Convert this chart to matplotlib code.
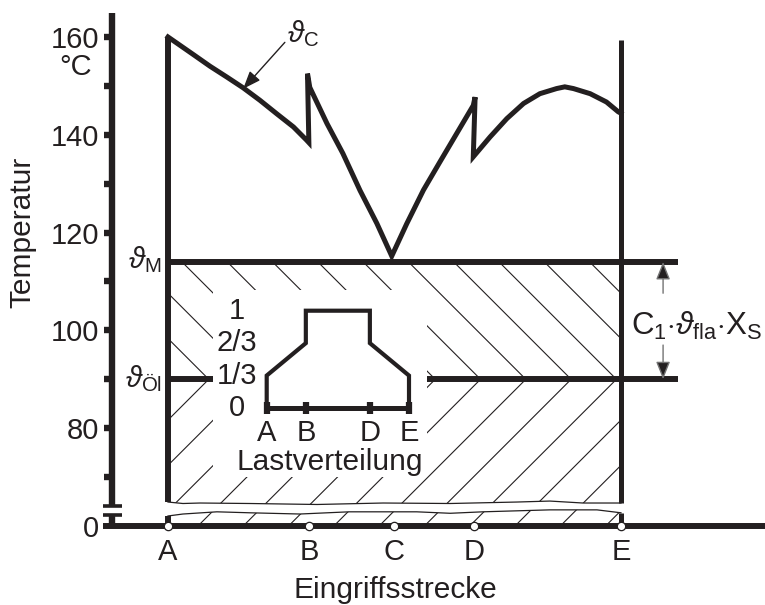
import numpy as np
import matplotlib
matplotlib.use("Agg")
import matplotlib.pyplot as plt
from matplotlib.collections import LineCollection
from matplotlib.patches import Rectangle
from matplotlib.path import Path

plt.rcParams['font.family'] = ['Liberation Sans', 'DejaVu Sans']
plt.rcParams['mathtext.fontset'] = 'custom'
plt.rcParams['mathtext.rm'] = 'Liberation Sans'
plt.rcParams['mathtext.it'] = 'Liberation Sans:italic'
plt.rcParams['text.color'] = '#231f20'

# Eingriffsstrecke positions (A = 0, E = 1)
points = ['A', 'B', 'C', 'D', 'E']
point_x = [0.0, 0.311, 0.499, 0.675, 1.0]

# contact temperature curve (theta_C)
curve_x = [0.0, 0.056, 0.093, 0.130, 0.166, 0.203, 0.240, 0.277, 0.306, 0.311,
           0.308, 0.313, 0.351, 0.386, 0.424, 0.461, 0.494,
           0.527, 0.564, 0.600, 0.637, 0.674, 0.678, 0.674,
           0.711, 0.748, 0.785, 0.821, 0.858, 0.876, 0.895, 0.932, 0.968, 0.994, 1.0]
curve_t = [160.0, 156.4, 154.0, 151.8, 149.6, 147.05, 144.3, 141.6, 138.9, 138.4,
           152.5, 149.7, 142.3, 136.2, 128.6, 121.9, 115.2,
           121.8, 128.7, 134.4, 140.2, 146.0, 147.7, 135.5,
           139.55, 143.3, 146.4, 148.4, 149.45, 149.8, 149.45, 148.4, 146.7, 144.7, 144.4]

t_mass = 114.0   # theta_M
t_oil = 90.0     # theta_Oel

# break lines (axis break near 0)
wave_top_x = [0, 0.033, 0.071, 0.181, 0.329, 0.475, 0.623, 0.770, 0.843, 0.916, 1.0]
wave_top_t = [64.9, 64.6, 64.7, 64.6, 64.4, 64.7, 64.6, 64.9, 65.1, 64.7, 64.7]
wave_bot_x = [0, 0.033, 0.108, 0.181, 0.291, 0.400, 0.549, 0.623, 0.695, 0.843, 0.947, 1.0]
wave_bot_t = [62.05, 62.45, 62.9, 62.7, 62.45, 62.9, 62.9, 62.6, 62.9, 63.3, 63.3, 62.7]

yticks_major = [80, 100, 120, 140, 160]
yticks_minor = [70, 90, 110, 130, 150]

# inset: load distribution
load_pts = ['A', 'B', 'D', 'E']
load_pos = [0.0, 0.275, 0.725, 1.0]
load_x = [0.0, 0.0, 0.275, 0.275, 0.725, 0.725, 1.0, 1.0]
load_y = [0.0, 1/3, 2/3, 1.0, 1.0, 2/3, 1/3, 0.0]
load_levels = [0, 1/3, 2/3, 1]
load_labels = ['0', '1/3', '2/3', '1']

W, H = 765, 605
fig = plt.figure(figsize=(W / 100, H / 100), dpi=100)
ax = fig.add_axes([112 / W, 79 / H, 653 / W, 513 / H])
ax.set_xlim(-0.1236, 1.318)
ax.set_ylim(60, 164.9)

lw = 4.3
k = '#231f20'
fs = 21

# axes
for s in ['top', 'right', 'bottom']:
    ax.spines[s].set_visible(False)
ax.spines['left'].set_linewidth(4.6)
ax.spines['left'].set_color(k)
ax.spines['left'].set_bounds(64.0, 164.9)
ax.spines['left'].set_capstyle('butt')
x0 = -0.1236
ax.plot([x0, x0], [60, 62.3], color=k, lw=4.6, clip_on=False, solid_capstyle='butt')
for yb in [64.0, 62.3]:
    ax.plot([-0.1435, -0.1015], [yb, yb], color=k, lw=2.6, clip_on=False,
            solid_capstyle='butt')
ax.plot([-0.1435, 1.318], [60, 60], color=k, lw=lw, clip_on=False,
        solid_capstyle='butt', zorder=4)

ax.set_yticks(yticks_major + [60])
ax.set_yticklabels([str(v) for v in yticks_major] + ['0'])
ax.set_yticks(yticks_minor, minor=True)
ax.tick_params(axis='y', which='both', direction='out', length=6, width=4.6,
               labelsize=fs, pad=3, color=k, labelcolor=k)
ax.yaxis.get_major_ticks()[-1].tick1line.set_visible(False)
ax.set_xticks(point_x)
ax.set_xticklabels(points)
ax.tick_params(axis='x', length=0, labelsize=fs, pad=9, labelcolor=k)

ax.plot(point_x, [60] * 5, 'o', mfc='white', mec=k, ms=6, mew=0.9,
        clip_on=False, zorder=6)

# hatching (45 deg in pixels)
slope = (653 / 1.4416) / (513 / 104.9)
centers = [0.99 - 0.1 * i for i in range(-4, 13)]
up_segs = [[(c, t_oil), (c - (t_mass - t_oil) / slope, t_mass)] for c in centers]
dn_segs = [[(c, t_oil), (c - (t_oil - 60) / slope, 60)] for c in centers]

def region(xs, top, bottom):
    xs = list(xs)
    if np.isscalar(top):
        verts = [(xs[0], top), (xs[-1], top)]
    else:
        verts = list(zip(xs, top))
    if np.isscalar(bottom):
        verts += [(xs[-1], bottom), (xs[0], bottom)]
    else:
        verts += list(zip(xs[::-1], bottom[::-1]))
    return Path(verts + [verts[0]])

clips = [
    (up_segs, region([0, 1], t_mass, t_oil)),
    (dn_segs, region(wave_top_x, t_oil, wave_top_t)),
    (dn_segs, region(wave_bot_x, wave_bot_t, 60)),
]
for segs, path in clips:
    lc = LineCollection(segs, colors=k, linewidths=0.8, zorder=1)
    ax.add_collection(lc)
    lc.set_clip_path(path, ax.transData)

ax.plot(wave_top_x, wave_top_t, color=k, lw=0.9, zorder=2)
ax.plot(wave_bot_x, wave_bot_t, color=k, lw=0.9, zorder=2)

# horizontal levels
ax.plot([0, 1.126], [t_mass, t_mass], color=k, lw=lw, solid_capstyle='butt', zorder=1.5)
ax.plot([0, 1.126], [t_oil, t_oil], color=k, lw=lw, solid_capstyle='butt', zorder=1.5)

# blank area behind inset
ax.add_patch(Rectangle((0.1, 70.0), 0.472, 38.2, fc='white', ec='none', zorder=2))

# vertical lines at A and E
ax.plot([0, 0], [160, wave_top_t[0]], color=k, lw=lw, solid_capstyle='butt', zorder=3)
ax.plot([0, 0], [60, wave_bot_t[0]], color=k, lw=lw, solid_capstyle='butt', zorder=3)
ax.plot([1, 1], [159.3, wave_top_t[-1]], color=k, lw=3.6, solid_capstyle='butt', zorder=3)
ax.plot([1, 1], [60, wave_bot_t[-1]], color=k, lw=3.6, solid_capstyle='butt', zorder=3)

# temperature curve
ax.plot(curve_x, curve_t, color=k, lw=3.6, solid_joinstyle='miter', zorder=3)

# labels
ax.text(-0.014, 114.4, r'$\vartheta_{\mathrm{M}}$', fontsize=21, ha='right', va='center')
ax.text(-0.014, 90.2, r'$\vartheta_{\mathrm{Öl}}$', fontsize=21, ha='right', va='center')
ax.text(0.262, 160.6, r'$\vartheta_{\mathrm{C}}$', fontsize=21, ha='left', va='center')
ax.annotate('', xy=(0.166, 149.4), xytext=(0.258, 158.9),
            arrowprops=dict(arrowstyle='-|>,head_length=0.9,head_width=0.35',
                            mutation_scale=12, lw=1, color=k, shrinkA=0, shrinkB=0))

for y0, y1 in [(107.6, t_mass), (97.0, t_oil)]:
    ax.annotate('', xy=(1.093, y1), xytext=(1.093, y0),
                arrowprops=dict(arrowstyle='-|>,head_length=0.9,head_width=0.36',
                                mutation_scale=12, lw=1, ec='0.45', fc=k,
                                shrinkA=0, shrinkB=0), annotation_clip=False)
ax.text(1.022, 101.0, r'C$_1$$\cdot$$\vartheta_{\mathrm{fla}}$$\cdot$X$_{\mathrm{S}}$',
        fontsize=22.5, ha='left', va='center')

ax.text(-0.168, 153.8, '°C', fontsize=fs, ha='right', va='center')
ax.text(-0.322, 120.0, 'Temperatur', fontsize=21.5, rotation=90, ha='center', va='center')
ax.text(0.501, 46.9, 'Eingriffsstrecke', fontsize=21.5, ha='center', va='center')

# inset: Lastverteilung
axi = fig.add_axes([266.7 / W, (H - 408) / H, 142.3 / W, 97.3 / H])
axi.set_xlim(0, 1)
axi.set_ylim(0, 1)
axi.axis('off')
axi.plot(load_x, load_y, color=k, lw=3.0, solid_joinstyle='miter', clip_on=False)
axi.plot([0, 1], [0, 0], color=k, lw=3.6, clip_on=False, solid_capstyle='butt')
axi.plot(load_pos, [0] * 4, '|', color=k, ms=9, mew=4.5, clip_on=False)
for lv, lb in zip(load_levels, load_labels):
    axi.text(-0.209, lv, lb, fontsize=fs, ha='center', va='center')
for px, lb in zip(load_pos, load_pts):
    axi.text(px, -0.257, lb, fontsize=fs, ha='center', va='center')
axi.text(0.445, -0.555, 'Lastverteilung', fontsize=21.5, ha='center', va='center')

fig.savefig('out.png', dpi=100)
